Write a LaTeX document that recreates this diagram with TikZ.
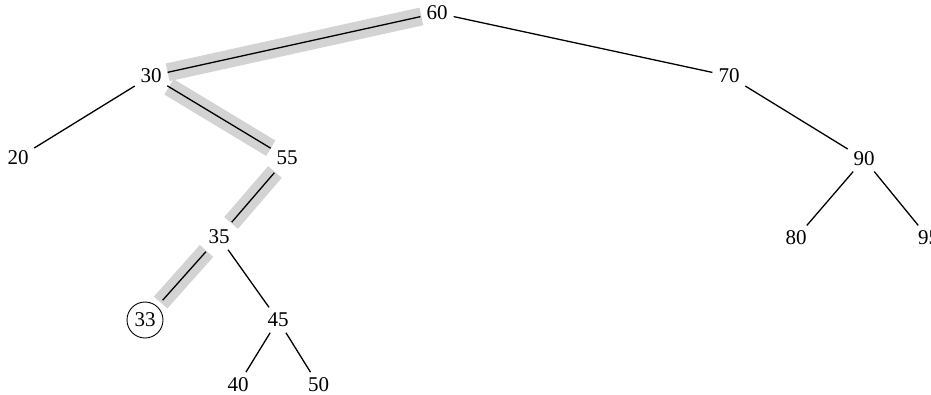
\documentclass[tikz,border=0pt]{standalone}
\usepackage{fontspec}
\setmainfont{Liberation Serif}
\definecolor{hlgray}{HTML}{D3D3D3}
\begin{document}
\begin{tikzpicture}[x=1pt,y=-1pt,
  n/.style={font=\fontsize{21}{25}\selectfont, inner sep=3pt},
  circ/.style={n, draw, circle, line width=0.9pt, minimum size=36pt, inner sep=0pt},
  e/.style={line width=1.3pt, shorten >=3pt, shorten <=3pt},
  hl/.style={line width=18pt, draw=hlgray, line cap=butt}]
\useasboundingbox (0,0) rectangle (931,394);
\node[n] (n60) at (437,13) {60};
\node[n] (n30) at (151,76) {30};
\node[n] (n70) at (729,76) {70};
\node[n] (n20) at (18,158) {20};
\node[n] (n55) at (287,158) {55};
\node[n] (n90) at (864,159) {90};
\node[n] (n35) at (219,237) {35};
\node[n] (n80) at (796,238) {80};
\node[n] (n95) at (928.5,238) {95};
\node[circ] (n33) at (145,320) {33};
\node[n] (n45) at (278,320) {45};
\node[n] (n40) at (238,385) {40};
\node[n] (n50) at (318.5,385) {50};
% highlight bands
\draw[hl, shorten <=2pt, shorten >=3pt] (n60) -- (n30);
\draw[hl, shorten <=5pt, shorten >=3pt] (n30) -- (n55);
\draw[hl, shorten <=5pt, shorten >=5pt] (n55) -- (n35);
\draw[hl, shorten <=5pt, shorten >=5pt] (n33) -- (n35);
% edges
\draw[e] (n60) -- (n30);
\draw[e] (n60) -- (n70);
\draw[e] (n30) -- (n20);
\draw[e] (n30) -- (n55);
\draw[e] (n70) -- (n90);
\draw[e, shorten <=6pt, shorten >=6pt] (n55) -- (n35);
\draw[e] (n90) -- (n80);
\draw[e] (n90) -- (n95);
\draw[e, shorten <=8pt, shorten >=6pt] (n33) -- (n35);
\draw[e] (n35) -- (n45);
\draw[e] (n45) -- (n40);
\draw[e] (n45) -- (n50);
\end{tikzpicture}
\end{document}
